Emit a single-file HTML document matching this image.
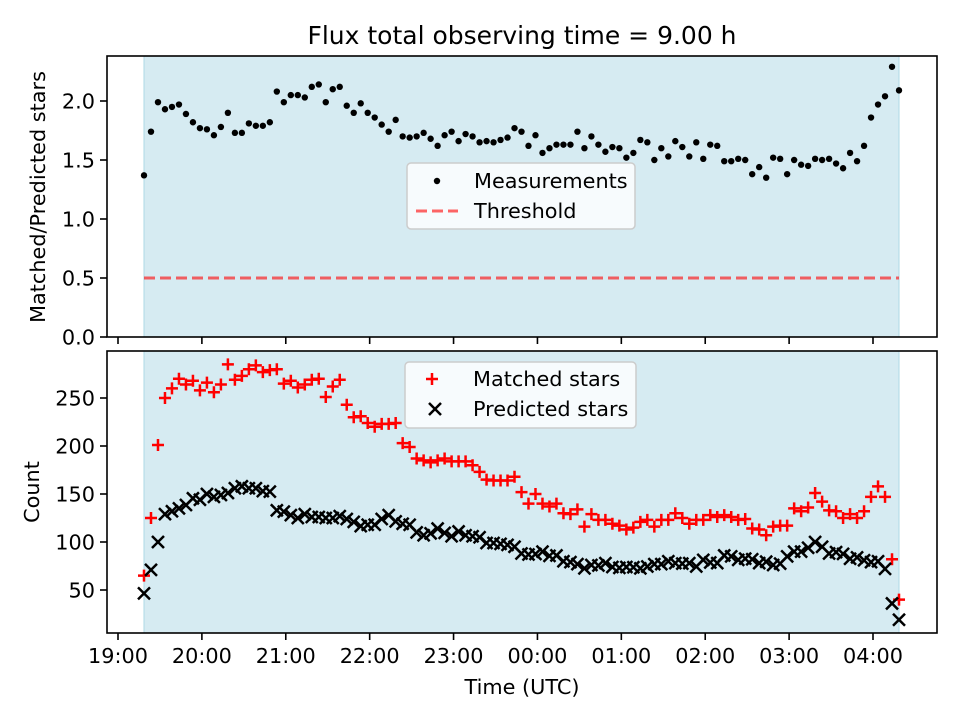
<!DOCTYPE html>
<html><head><meta charset="utf-8"><style>
html,body{margin:0;padding:0;background:#fff;}
svg{display:block;font-family:"DejaVu Sans","Liberation Sans",sans-serif;}
</style></head><body>
<svg id="fig" width="960" height="720" viewBox="0 0 960 720">
<text x="522" y="44" font-size="25" text-anchor="middle">Flux total observing time = 9.00 h</text>
<text x="522" y="694" font-size="20.8" text-anchor="middle">Time (UTC)</text>
<text transform="translate(45,197) rotate(-90)" font-size="20.8" text-anchor="middle">Matched/Predicted stars</text>
<text transform="translate(39,492) rotate(-90)" font-size="20.8" text-anchor="middle">Count</text>
<g id="top"></g>
<g id="bot"></g>
</svg>
<script>
const timesMin = [18.6,23.6,28.6,33.6,38.6,43.6,48.6,53.6,58.6,63.6,68.6,73.6,78.6,83.6,88.6,93.6,98.6,103.6,108.6,113.6,118.6,123.6,128.6,133.6,138.6,143.6,148.6,153.6,158.6,163.6,168.6,173.6,178.6,183.6,188.6,193.6,198.6,203.6,208.6,213.6,218.6,223.6,228.6,233.6,238.6,243.6,248.6,253.6,258.6,263.6,268.6,273.6,278.6,283.6,288.6,293.6,298.6,303.6,308.6,313.6,318.6,323.6,328.6,333.6,338.6,343.6,348.6,353.6,358.6,363.6,368.6,373.6,378.6,383.6,388.6,393.6,398.6,403.6,408.6,413.6,418.6,423.6,428.6,433.6,438.6,443.6,448.6,453.6,458.6,463.6,468.6,473.6,478.6,483.6,488.6,493.6,498.6,503.6,508.6,513.6,518.6,523.6,528.6,533.6,538.6,543.6,548.6,553.6,558.6];
const ratio = [1.37,1.74,1.99,1.93,1.95,1.97,1.89,1.82,1.77,1.76,1.71,1.78,1.90,1.73,1.73,1.81,1.79,1.79,1.82,2.08,1.99,2.05,2.05,2.03,2.12,2.14,1.99,2.10,2.12,1.96,1.90,1.98,1.90,1.86,1.80,1.74,1.84,1.70,1.69,1.70,1.73,1.68,1.62,1.71,1.74,1.66,1.72,1.70,1.65,1.66,1.65,1.67,1.69,1.77,1.74,1.62,1.71,1.56,1.60,1.63,1.63,1.63,1.74,1.60,1.70,1.63,1.57,1.61,1.60,1.52,1.56,1.67,1.65,1.50,1.60,1.53,1.66,1.61,1.53,1.65,1.51,1.63,1.62,1.49,1.49,1.51,1.50,1.38,1.44,1.35,1.52,1.51,1.38,1.50,1.46,1.45,1.51,1.50,1.51,1.47,1.43,1.56,1.49,1.62,1.86,1.97,2.04,2.29,2.09];
const matched = [65,125,201,250,260,270,264,268,258,266,256,264,285,269,273,280,284,277,279,280,265,268,261,264,269,270,251,262,269,243,230,231,224,220,223,223,224,203,199,187,185,183,185,187,184,184,184,180,173,165,164,164,164,168,152,140,150,140,137,140,130,129,134,116,129,123,123,119,117,113,115,121,123,116,123,123,130,125,119,123,123,128,126,128,126,123,124,114,113,107,116,117,117,135,132,136,151,142,133,132,125,129,125,132,147,158,147,82,40];
const predicted = [46.5,71,100,129,132,135,138.5,145.5,144,150,147,149,151,156,158,156,156,153,152.5,133,131.6,128,125,129,126,126,125,125,127,124,121,116.5,118,118,124,128,121.5,119,118,110,107,109,114,109.5,106,111,107,106,105,99,99,98,97,95,88,87,87.5,90,85.5,86,80,79,77,72.5,76,75.5,78,74,73,74,73.7,72.5,74.5,77,77,80,78,77.5,78,74.5,81.4,78.6,78,86,85,81.4,82.7,82,78,79.5,76,77.5,85,90,90,94,100,95,88,89.5,87.6,82.6,84,81,79,80,72,36,19];
const threshold = 0.5;
const xTickMin = [0,60,120,180,240,300,360,420,480,540];
const xTickLabels = ["19:00","20:00","21:00","22:00","23:00","00:00","01:00","02:00","03:00","04:00"];
const topYTicks = [0,0.5,1,1.5,2];
const topYLabels = ["0.0","0.5","1.0","1.5","2.0"];
const botYTicks = [50,100,150,200,250];
const spanMin = [18.6,558.6];

const NS="http://www.w3.org/2000/svg";
function mk(p,tag,at){const e=document.createElementNS(NS,tag);for(const k in at)e.setAttribute(k,at[k]);p.appendChild(e);return e;}
const L=107,R=937;
const xs=m=>118+m*(755/540);
const ytop=v=>337-118*v;
const ybot=v=>638-0.96*v;

function panel(g,T,B){
  const sp=mk(g,'rect',{x:xs(spanMin[0]),y:T,width:xs(spanMin[1])-xs(spanMin[0]),height:B-T,fill:'#add8e6','fill-opacity':0.5,stroke:'#add8e6','stroke-width':1});
  
  
}
function frame(g,T,B){
  const f=mk(g,'rect',{x:L,y:T,width:R-L,height:B-T,fill:'none',stroke:'#000','stroke-width':1.6});
  
  
}
function xticks(g,B,labels){
  xTickMin.forEach((m,i)=>{
    const x=xs(m);
    const t=mk(g,'line',{x1:x,x2:x,y1:B,y2:B+7,stroke:'#000','stroke-width':1.6});
    
    
    if(labels){
      const tx=mk(g,'text',{x:x,y:B+30,'font-size':20.8,'text-anchor':'middle'});
      tx.textContent=xTickLabels[i];
      
      
    }
  });
}
function yticks(g,vals,labs,ys){
  vals.forEach((v,i)=>{
    const y=ys(v);
    const t=mk(g,'line',{x1:L-7,x2:L,y1:y,y2:y,stroke:'#000','stroke-width':1.6});
    
    
    const tx=mk(g,'text',{x:L-12,y:y+7.5,'font-size':20.8,'text-anchor':'end'});
    tx.textContent=labs[i];
    
    
  });
}
function legendBox(g,x,y,w,h){
  const r=mk(g,'rect',{x:x,y:y,width:w,height:h,rx:4,fill:'#fff','fill-opacity':0.8,stroke:'#ccc','stroke-width':1.5});
  
  
}
function plus(g,x,y,name){
  const p=mk(g,'path',{d:`M${x-6},${y}H${x+6}M${x},${y-6}V${y+6}`,stroke:'#f00','stroke-width':2.5,fill:'none'});
  
  
}
function cross(g,x,y,name){
  const p=mk(g,'path',{d:`M${x-6},${y-6}L${x+6},${y+6}M${x-6},${y+6}L${x+6},${y-6}`,stroke:'#000','stroke-width':2.5,fill:'none'});
  
  
}

// top panel
const gt=document.getElementById('top');
panel(gt,56,337);
const th=mk(gt,'line',{x1:xs(timesMin[0]),x2:xs(timesMin[timesMin.length-1]),y1:ytop(threshold),y2:ytop(threshold),stroke:'#f00','stroke-opacity':0.6,'stroke-width':3,'stroke-dasharray':'11,5'});


ratio.forEach((v,i)=>{
  const c=mk(gt,'circle',{cx:xs(timesMin[i]),cy:ytop(v),r:3.2,fill:'#000'});
  
  
});
frame(gt,56,337);
xticks(gt,337,false);
yticks(gt,topYTicks,topYLabels,ytop);
legendBox(gt,407,163,228,66);
const ld=mk(gt,'circle',{cx:437,cy:181,r:3.2,fill:'#000'});


let t1=mk(gt,'text',{x:474,y:188,'font-size':20.8});t1.textContent='Measurements';


const ll=mk(gt,'line',{x1:416,x2:458,y1:211,y2:211,stroke:'#f00','stroke-opacity':0.6,'stroke-width':3,'stroke-dasharray':'11,5'});


let t2=mk(gt,'text',{x:474,y:218,'font-size':20.8});t2.textContent='Threshold';



// bottom panel
const gb=document.getElementById('bot');
panel(gb,351,633);
matched.forEach((v,i)=>plus(gb,xs(timesMin[i]),ybot(v),'matched-point'));
predicted.forEach((v,i)=>cross(gb,xs(timesMin[i]),ybot(v),'predicted-point'));
frame(gb,351,633);
xticks(gb,633,true);
yticks(gb,botYTicks,botYTicks.map(String),ybot);
legendBox(gb,405,362,231,66);
plus(gb,432,379,'legend-matched-marker');
cross(gb,435,409,'legend-predicted-marker');
let t3=mk(gb,'text',{x:473,y:386,'font-size':20.8});t3.textContent='Matched stars';


let t4=mk(gb,'text',{x:473,y:416,'font-size':20.8});t4.textContent='Predicted stars';


</script>
</body></html>
